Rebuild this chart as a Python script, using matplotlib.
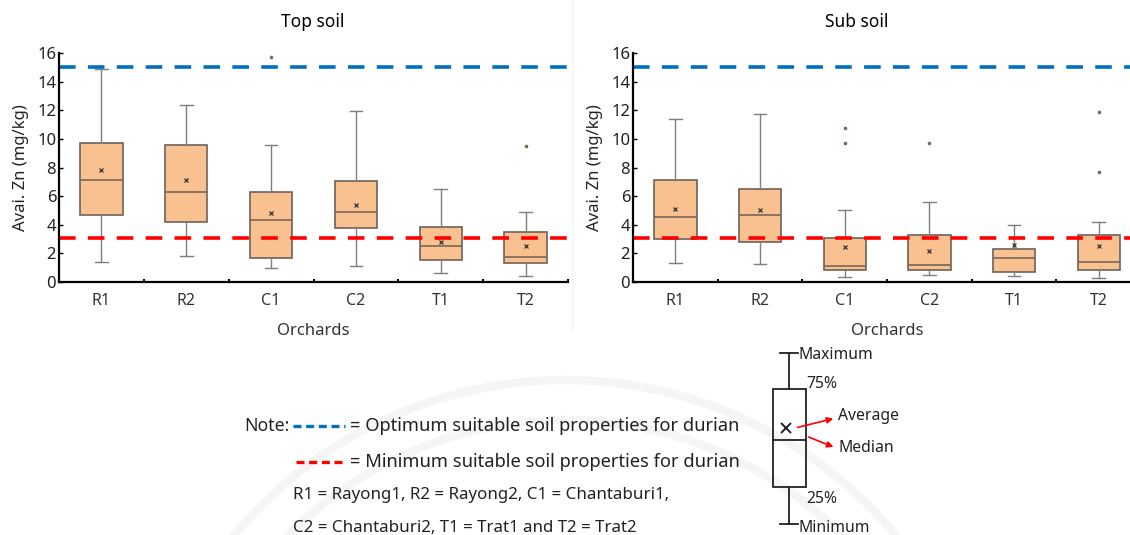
import numpy as np
import matplotlib
matplotlib.use('Agg')
import matplotlib.pyplot as plt
from matplotlib.patches import Arc, FancyArrowPatch, Rectangle

plt.rcParams['font.family'] = ['Noto Sans', 'DejaVu Sans']

# data
orchards = ['R1', 'R2', 'C1', 'C2', 'T1', 'T2']

top_min = [1.40, 1.80, 1.00, 1.12, 0.63, 0.44]
top_q1 = [4.67, 4.18, 1.71, 3.76, 1.54, 1.31]
top_med = [7.13, 6.28, 4.30, 4.91, 2.50, 1.73]
top_mean = [7.83, 7.10, 4.79, 5.35, 2.78, 2.52]
top_q3 = [9.70, 9.60, 6.31, 7.06, 3.83, 3.46]
top_max = [14.88, 12.38, 9.60, 11.92, 6.52, 4.91]
top_out = [[], [], [15.72], [], [], [9.49]]

sub_min = [1.33, 1.26, 0.37, 0.51, 0.44, 0.26]
sub_q1 = [2.97, 2.76, 0.82, 0.86, 0.72, 0.84]
sub_med = [4.51, 4.65, 1.10, 1.21, 1.68, 1.38]
sub_mean = [5.09, 5.02, 2.43, 2.20, 2.59, 2.52]
sub_q3 = [7.10, 6.52, 3.08, 3.29, 2.34, 3.25]
sub_max = [11.40, 11.73, 5.02, 5.56, 3.97, 4.18]
sub_out = [[], [], [10.75, 9.74], [9.74], [], [11.89, 7.69]]

optimum = 15.0
minimum = 3.1

W, H = 1130, 535
BLUE = '#0070C0'
RED = '#FF0000'
DASH = (0, (4.6, 3.4))


def make_stats(lo, q1, med, mean, q3, hi, out):
    stats = []
    for i in range(len(lo)):
        stats.append(dict(whislo=lo[i], q1=q1[i], med=med[i], mean=mean[i],
                          q3=q3[i], whishi=hi[i], fliers=out[i]))
    return stats


def draw_panel(ax, stats):
    ax.bxp(stats, positions=np.arange(len(orchards)), widths=0.5,
           capwidths=0.15, patch_artist=True, showmeans=True,
           boxprops=dict(facecolor='#F8C18F', edgecolor='#6e6258', lw=1.2),
           medianprops=dict(color='#7a6656', lw=1.2),
           whiskerprops=dict(color='#7f7f7f', lw=1),
           capprops=dict(color='#7f7f7f', lw=1),
           meanprops=dict(marker='x', markersize=3.5, markeredgecolor='#333333',
                          markeredgewidth=0.9),
           flierprops=dict(marker='o', markersize=1.6, markerfacecolor='#7a6a5a',
                           markeredgecolor='#7a6a5a'))
    ax.axhline(optimum, color=BLUE, lw=2.6, ls=DASH)
    ax.axhline(minimum, color=RED, lw=2.6, ls=DASH)
    ax.set_xlim(-0.5, len(orchards) - 0.5)
    ax.set_ylim(0, 16)
    ax.set_yticks(np.arange(0, 17, 2))
    ax.set_xticks(np.arange(len(orchards)))
    ax.set_xticklabels(orchards)
    ax.set_xticks(np.arange(len(orchards) + 1) - 0.5, minor=True)
    ax.tick_params(axis='x', which='major', length=0, labelsize=11.5, pad=8,
                   labelcolor='#333333')
    ax.tick_params(axis='x', which='minor', length=2.5, width=1.5, direction='in')
    ax.tick_params(axis='y', length=3, width=1, direction='in', labelsize=12,
                   pad=2, labelcolor='#222222')
    for s in ['top', 'right']:
        ax.spines[s].set_visible(False)
    for s in ['left', 'bottom']:
        ax.spines[s].set_linewidth(1.6)
    ax.set_xlabel('Orchards', fontsize=12, color='#333333', labelpad=10)
    ax.set_ylabel('Avai. Zn (mg/kg)', fontsize=12, color='#222222', labelpad=6)


fig = plt.figure(figsize=(W / 100, H / 100), dpi=100)

# faint background watermark and separator
bg = fig.add_axes([0, 0, 1, 1], zorder=-1)
bg.set_xlim(0, W)
bg.set_ylim(H, 0)
bg.axis('off')
for r in (430, 390):
    bg.add_patch(Arc((565, 810), 2 * r, 2 * r, theta1=180, theta2=360,
                     color='#f5f5f5', lw=6))
bg.plot([572, 572], [0, 330], color='#f4f4f4', lw=1)

ax1 = fig.add_axes([59 / W, 1 - 282 / H, 509 / W, 229 / H])
ax2 = fig.add_axes([633 / W, 1 - 282 / H, 508 / W, 229 / H])
draw_panel(ax1, make_stats(top_min, top_q1, top_med, top_mean, top_q3, top_max, top_out))
draw_panel(ax2, make_stats(sub_min, sub_q1, sub_med, sub_mean, sub_q3, sub_max, sub_out))

fig.text(313 / W, 1 - 22 / H, 'Top soil', ha='center', va='center', fontsize=12.5)
fig.text(857 / W, 1 - 22 / H, 'Sub soil', ha='center', va='center', fontsize=12.5)

# note / legend area drawn in pixel coordinates
ov = fig.add_axes([0, 0, 1, 1], zorder=5)
ov.set_xlim(0, W)
ov.set_ylim(H, 0)
ov.axis('off')
ov.patch.set_alpha(0)

fs = 13.2
ov.text(290, 426, 'Note:', ha='right', va='center', fontsize=fs - 0.5, color='#222222')
ov.plot([293, 345], [426, 426], color=BLUE, lw=2.4, ls=(0, (2.4, 1.4)))
ov.text(350, 426, '= Optimum suitable soil properties for durian', ha='left',
        va='center', fontsize=fs, color='#222222')
ov.plot([296, 345], [462, 462], color=RED, lw=2.4, ls=(0, (2.4, 1.4)))
ov.text(350, 462, '= Minimum suitable soil properties for durian', ha='left',
        va='center', fontsize=fs, color='#222222')
ov.text(293, 495, 'R1 = Rayong1, R2 = Rayong2, C1 = Chantaburi1,', ha='left',
        va='center', fontsize=12.2, color='#222222')
ov.text(293, 528, 'C2 = Chantaburi2, T1 = Trat1 and T2 = Trat2', ha='left',
        va='center', fontsize=12.2, color='#222222')

# box-plot key
k = dict(color='#222222', lw=1.3)
ov.plot([789, 789], [353, 389], **k)
ov.plot([789, 789], [487, 524], **k)
ov.plot([780, 798], [353, 353], **k)
ov.plot([780, 798], [524, 524], **k)
ov.add_patch(Rectangle((773, 389), 33, 98, fill=False, ec='#222222', lw=1.3))
ov.plot([773, 806], [440, 440], **k)
ov.plot(786, 428, marker='x', ms=7, mec='#222222', mew=1.4)
kf = 11.3
ov.text(799, 355, 'Maximum', ha='left', va='center', fontsize=kf, color='#222222')
ov.text(806, 384, '75%', ha='left', va='center', fontsize=kf, color='#222222')
ov.text(838, 416, 'Average', ha='left', va='center', fontsize=kf, color='#222222')
ov.text(838, 448, 'Median', ha='left', va='center', fontsize=kf, color='#222222')
ov.text(806, 499, '25%', ha='left', va='center', fontsize=kf, color='#222222')
ov.text(799, 528, 'Minimum', ha='left', va='center', fontsize=kf, color='#222222')
for start, end in [((795, 428), (836, 418)), ((806, 436), (836, 448))]:
    ov.add_patch(FancyArrowPatch(start, end, arrowstyle='-|>', mutation_scale=9,
                                 color=RED, lw=1.2))

fig.savefig('out.png', dpi=100)
